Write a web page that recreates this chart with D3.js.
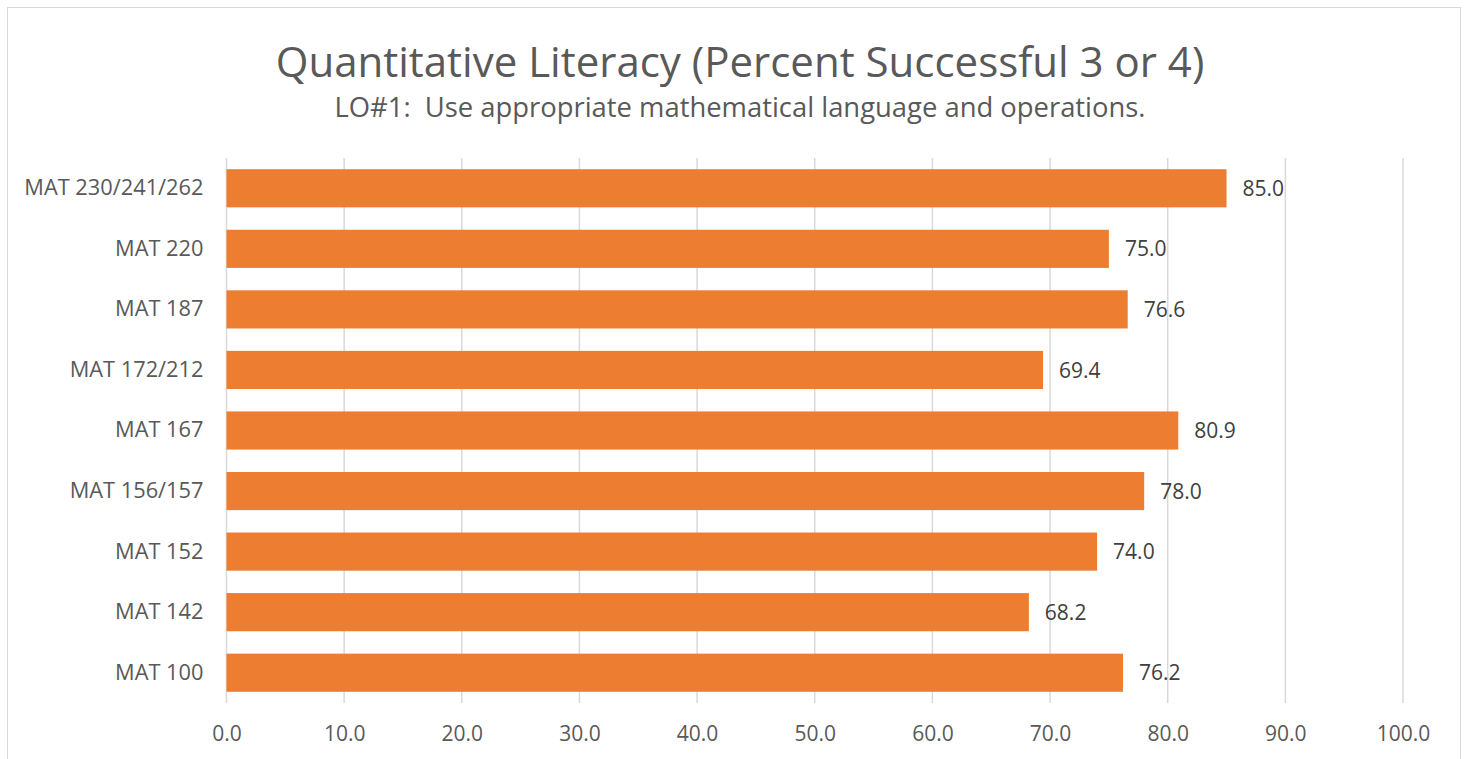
<!DOCTYPE html>
<html>
<head>
<meta charset="utf-8">
<script src="https://cdn.jsdelivr.net/npm/d3@7"></script>
<style>
  html, body { margin: 0; padding: 0; background: #fff; }
  svg { display: block; font-family: "Open Sans", "Noto Sans", sans-serif; }
</style>
</head>
<body>
<svg id="chart" width="1468" height="759"></svg>
<script>
// Course sections, top to bottom
const categories = [
  "MAT 230/241/262", "MAT 220", "MAT 187", "MAT 172/212", "MAT 167",
  "MAT 156/157", "MAT 152", "MAT 142", "MAT 100"
];
// Percent of students scoring 3 or 4
const values = [85.0, 75.0, 76.6, 69.4, 80.9, 78.0, 74.0, 68.2, 76.2];
const tickValues = [0, 10, 20, 30, 40, 50, 60, 70, 80, 90, 100];

const title = "Quantitative Literacy (Percent Successful 3 or 4)";
const subtitle = "LO#1:  Use appropriate mathematical language and operations.";

const svg = d3.select("#chart");
const textColor = "#595959";
const gridColor = "#D9D9D9";
const barColor = "#ED7D31";

// outer chart frame
svg.append("rect")
  .attr("x", 7.5).attr("y", 7.5)
  .attr("width", 1453).attr("height", 760)
  .attr("fill", "#fff").attr("stroke", "#D9D9D9").attr("stroke-width", 1);

const plot = { left: 226.5, right: 1403, top: 158, bottom: 703 };

const x = d3.scaleLinear().domain([0, 100]).range([plot.left, plot.right]);
const y = d3.scaleBand().domain(categories).range([plot.top, plot.bottom]).paddingInner(0.37).paddingOuter(0.185);

// vertical gridlines
svg.append("g")
  .selectAll("line")
  .data(tickValues)
  .join("line")
  .attr("x1", d => x(d)).attr("x2", d => x(d))
  .attr("y1", plot.top).attr("y2", plot.bottom)
  .attr("stroke", gridColor).attr("stroke-width", 1.5);

// bars
svg.append("g")
  .selectAll("rect")
  .data(values)
  .join("rect")
  .attr("x", x(0))
  .attr("y", (d, i) => y(categories[i]))
  .attr("width", d => x(d) - x(0))
  .attr("height", y.bandwidth())
  .attr("fill", barColor);

// value labels
svg.append("g")
  .selectAll("text")
  .data(values)
  .join("text")
  .attr("x", d => x(d) + 16)
  .attr("y", (d, i) => y(categories[i]) + y.bandwidth() / 2)
  .attr("dy", "0.36em")
  .attr("fill", "#404040")
  .attr("font-size", 21)
  .text(d => d.toFixed(1));

// category axis
const yAxis = svg.append("g")
  .attr("transform", `translate(${plot.left},0)`)
  .call(d3.axisLeft(y).tickSize(0).tickPadding(23));
yAxis.select(".domain").remove();
yAxis.selectAll("text")
  .attr("fill", textColor)
  .attr("font-size", 21.8)
  .attr("font-family", "\"Open Sans\", sans-serif");

// value axis
const xAxis = svg.append("g")
  .attr("transform", `translate(0,${plot.bottom})`)
  .call(d3.axisBottom(x).tickValues(tickValues).tickSize(0).tickPadding(23).tickFormat(d3.format(".1f")));
xAxis.select(".domain").remove();
xAxis.selectAll("text")
  .attr("fill", textColor)
  .attr("font-size", 21)
  .attr("font-family", "\"Open Sans\", sans-serif");

// titles
svg.append("text")
  .attr("x", 740).attr("y", 77)
  .attr("text-anchor", "middle")
  .attr("fill", textColor)
  .attr("font-size", 42)
  .text(title);

svg.append("text")
  .attr("x", 740).attr("y", 117)
  .attr("text-anchor", "middle")
  .attr("fill", textColor)
  .attr("font-size", 27.4)
  .style("white-space", "pre")
  .text(subtitle);
</script>
</body>
</html>
